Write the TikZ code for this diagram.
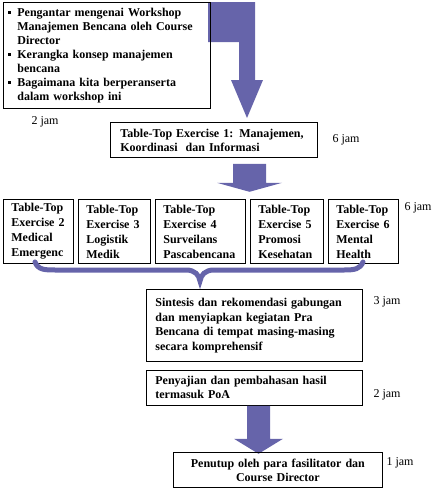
\documentclass[tikz,border=0pt]{standalone}
\usepackage{fontspec}
\setmainfont{Liberation Serif}
\usetikzlibrary{calc}
\definecolor{arrowc}{RGB}{102,100,170}
\newcommand{\sqbul}{\raisebox{2.5pt}{\rule{3pt}{3pt}}}
\begin{document}
\begin{tikzpicture}[x=1pt,y=-1pt,
  box/.style={draw, line width=0.8pt, rectangle, anchor=north west, inner ysep=0pt,
    align=left, font=\fontsize{12}{14}\bfseries\selectfont},
  rowbox/.style={box, inner xsep=8pt, minimum height=64pt, font=\fontsize{12}{15}\bfseries\selectfont},
  hrs/.style={font=\fontsize{12}{14}\selectfont, inner sep=0pt},
  blk/.style={fill=arrowc, draw=none}]
\useasboundingbox (0,0) rectangle (435,490);

% block arrows first (behind boxes)
\coordinate (a1tip) at (247,118);
\fill[blk] (a1tip) -- +(-16,-38) -- +(-8,-38) -- +(-8,-76) -- +(-39,-76) -- +(-39,-116)
  -- +(8,-116) -- +(8,-38) -- +(16,-38) -- cycle;

% box 1
\node[box, inner xsep=5pt, text width=197pt, minimum height=106pt] (b1) at (3,2)
  {\begin{tabular}{@{}l@{\hspace{6pt}}l@{}}
   \sqbul & Pengantar mengenai Workshop\\
          & Manajemen Bencana oleh Course\\
          & Director\\
   \sqbul & Kerangka konsep manajemen\\
          & bencana\\
   \sqbul & Bagaimana kita berperanserta\\
          & dalam workshop ini
   \end{tabular}};
\node[hrs] (t1) at (45,122) {2 jam};

% box 2
\node[box, inner xsep=10pt, text width=187pt, minimum height=35pt] (b2) at (110,122)
  {Table-Top Exercise 1: Manajemen,\\Koordinasi\ \ dan Informasi};
\node[hrs] (t2) at (346,140) {6 jam};

% arrow 2
\coordinate (a2tip) at ($(b2.south west)+(139.5,34)$);
\fill[blk] (a2tip) -- +(-32.5,-9) -- +(-16.5,-9) -- +(-16.5,-28) -- +(16.5,-28)
  -- +(16.5,-9) -- +(32.5,-9) -- cycle;

% row of exercises
\node[rowbox, text width=54pt] (e2) at (3,199) {Table-Top\\Exercise 2\\Medical\\Emergenc};
\node[rowbox, text width=56pt] (e3) at (78,199) {Table-Top\\Exercise 3\\Logistik\\Medik};
\node[rowbox, text width=74pt] (e4) at (155,199) {Table-Top\\Exercise 4\\Surveilans\\Pascabencana};
\node[rowbox, text width=57pt] (e5) at (250,199) {Table-Top\\Exercise 5\\Promosi\\Kesehatan};
\node[rowbox, text width=54pt] (e6) at (328,199) {Table-Top\\Exercise 6\\Mental\\Health};
\node[hrs] (t3) at (418,208) {6 jam};

% brace
\draw[arrowc, line width=5pt, line cap=round]
  (35,262) .. controls (38,270) and (45,270) .. (56,270) -- (186,270)
  .. controls (195,270) and (199,275) .. (200,281)
  .. controls (201,275) and (205,270) .. (214,270) -- (344,270)
  .. controls (355,270) and (360,269) .. (363,262);

% sintesis
\node[box, inner xsep=9pt, text width=198pt, minimum height=72pt,
  font=\fontsize{12}{14.5}\bfseries\selectfont] (s) at (146,289)
  {Sintesis dan rekomendasi gabungan\\dan menyiapkan kegiatan Pra\\Bencana di tempat masing-masing\\secara komprehensif};
\node[hrs] (t4) at (387,302) {3 jam};

% penyajian
\node[box, inner xsep=9pt, text width=198pt, minimum height=35pt] (p) at (146,370)
  {Penyajian dan pembahasan hasil\\termasuk PoA};
\node[hrs] (t5) at (387,395) {2 jam};

% arrow 3
\coordinate (a3tip) at ($(p.south west)+(112.5,48)$);
\fill[blk] (a3tip) -- +(-24.5,-15) -- +(-11.5,-15) -- +(-11.5,-48) -- +(11.5,-48)
  -- +(11.5,-15) -- +(24.5,-15) -- cycle;

% penutup
\node[box, align=center, inner xsep=6pt, text width=197pt, minimum height=35pt] (c) at (173,452)
  {Penutup oleh para fasilitator dan\\Course Director};
\node[hrs] (t6) at (400,463) {1 jam};
\end{tikzpicture}
\end{document}
